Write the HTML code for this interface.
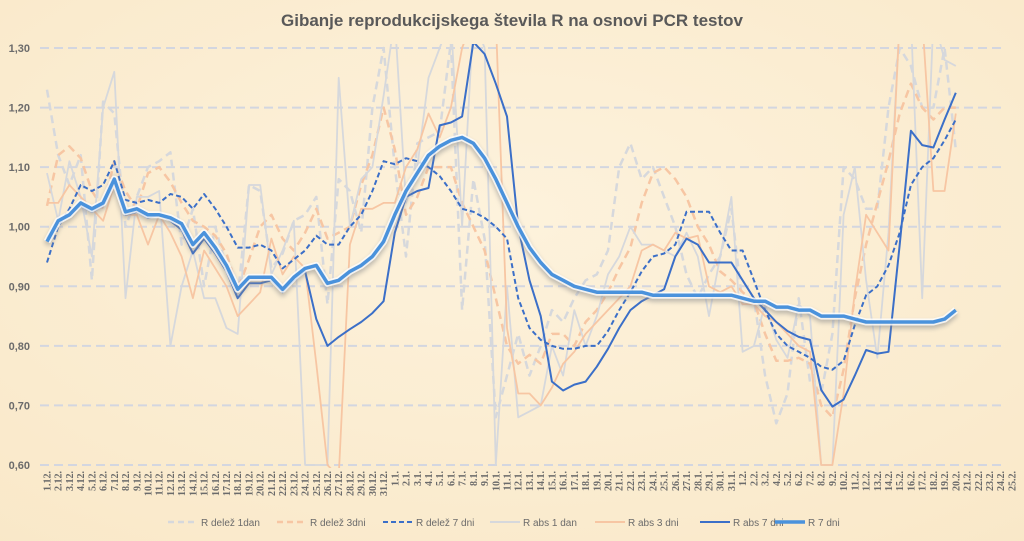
<!DOCTYPE html>
<html><head><meta charset="utf-8"><style>
html,body{margin:0;padding:0;}
body{width:1024px;height:541px;overflow:hidden;background:#fcefd6;font-family:"Liberation Sans",sans-serif;}
svg{display:block}
</style></head><body>
<svg id="chart" width="1024" height="541" viewBox="0 0 1024 541" xmlns="http://www.w3.org/2000/svg">
<defs>
<radialGradient id="bg" cx="50%" cy="40%" r="80%"><stop offset="0" stop-color="#fdf2dc"/><stop offset="1" stop-color="#f9e8c8"/></radialGradient>
<clipPath id="plotclip"><rect x="38" y="44" width="980" height="424"/></clipPath>
<filter id="glow" x="-5%" y="-20%" width="110%" height="140%"><feGaussianBlur stdDeviation="2.5"/></filter>
</defs>
<rect width="1024" height="541" fill="url(#bg)"/>
<text x="512" y="26" text-anchor="middle" font-size="17" font-weight="bold" fill="#595959">Gibanje reprodukcijskega števila R na osnovi PCR testov</text>
<g id="grid"></g><g id="yaxis"></g><g id="xaxis"></g><g id="series" clip-path="url(#plotclip)"></g><g id="legend"></g>
</svg>
<script>
const yTicks=[0.6,0.7,0.8,0.9,1.0,1.1,1.2,1.3];
const yTickLabels=["0,60","0,70","0,80","0,90","1,00","1,10","1,20","1,30"];
const categories=[];
for(let d=1;d<=31;d++)categories.push(d+".12.");
for(let d=1;d<=31;d++)categories.push(d+".1.");
for(let d=1;d<=25;d++)categories.push(d+".2.");
const seriesNames=["R delež 1dan","R delež 3dni","R delež 7 dni","R abs 1 dan","R abs 3 dni","R abs 7 dni","R 7 dni"];
const delez1=[1.23,1.12,1.07,1.12,0.91,1.21,1.19,1.0,1.05,1.1,1.11,1.125,0.97,1.03,0.9,1.0,0.93,0.88,1.07,1.06,0.93,0.955,1.01,1.02,1.05,0.87,1.08,1.06,0.99,1.2,1.3,
1.1,0.95,1.14,1.15,1.16,1.31,0.86,1.08,0.98,0.68,0.75,0.82,0.75,0.8,0.86,0.84,0.88,0.91,0.92,0.96,1.1,1.14,1.08,1.1,1.05,1.0,0.92,0.88,0.92,0.95,1.03,
0.87,0.88,0.75,0.67,0.72,0.88,0.74,0.72,0.82,1.1,1.08,1.03,1.03,1.2,1.3,1.27,1.2,1.2,1.3,1.13];
const delez3=[1.035,1.12,1.135,1.115,1.06,1.03,1.11,1.06,1.03,1.09,1.1,1.075,1.04,1.01,1.0,0.985,0.955,0.895,0.945,1.0,1.02,0.98,0.96,0.99,1.03,0.98,0.99,1.0,1.07,1.12,1.2,
1.13,1.02,1.05,1.1,1.1,1.1,1.04,1.0,0.96,0.88,0.8,0.77,0.785,0.77,0.82,0.82,0.8,0.84,0.86,0.89,0.93,0.965,1.04,1.09,1.1,1.08,1.05,1.0,0.97,0.925,0.91,
0.89,0.875,0.82,0.775,0.775,0.78,0.77,0.7,0.68,0.76,0.88,0.97,1.04,1.11,1.19,1.24,1.2,1.18,1.2,1.2];
const delez7=[0.94,1.0,1.03,1.07,1.06,1.07,1.11,1.045,1.04,1.045,1.04,1.055,1.05,1.03,1.055,1.03,1.0,0.965,0.965,0.97,0.96,0.93,0.945,0.96,0.985,0.97,0.97,1.0,1.02,1.06,1.11,
1.105,1.115,1.11,1.1,1.085,1.06,1.03,1.025,1.015,1.0,0.98,0.88,0.83,0.81,0.8,0.795,0.795,0.8,0.8,0.825,0.86,0.89,0.925,0.95,0.955,0.97,1.025,1.025,1.025,0.99,0.96,
0.96,0.91,0.86,0.82,0.8,0.79,0.78,0.765,0.76,0.775,0.835,0.885,0.9,0.935,0.99,1.07,1.1,1.115,1.145,1.18];
const abs1=[1.09,1.01,1.11,1.05,0.95,1.2,1.26,0.88,1.05,1.05,1.06,0.8,0.9,0.96,0.88,0.88,0.83,0.82,1.07,1.07,0.92,0.96,1.01,0.6,0.6,0.6,1.25,1.0,1.08,1.1,1.22,
1.35,1.04,1.1,1.25,1.3,1.35,1.0,1.35,1.3,0.6,0.9,0.68,0.69,0.7,0.8,0.75,0.86,0.8,0.85,0.92,0.95,1.0,0.97,0.97,0.96,0.95,0.99,0.95,0.85,0.95,1.05,
0.79,0.8,0.87,0.81,0.78,0.87,0.85,0.6,0.6,1.02,1.1,0.91,0.78,0.99,1.35,1.35,0.88,1.35,1.28,1.27];
const abs3=[1.04,1.04,1.07,1.05,1.03,1.01,1.07,1.02,1.02,0.97,1.02,0.99,0.95,0.88,0.96,0.93,0.9,0.85,0.87,0.89,0.98,0.92,0.95,0.93,0.77,0.6,0.58,0.97,1.03,1.03,1.04,
1.04,1.1,1.13,1.19,1.15,1.2,1.3,1.35,1.35,1.35,0.83,0.72,0.72,0.7,0.73,0.77,0.79,0.82,0.84,0.86,0.88,0.9,0.96,0.97,0.96,0.99,0.98,0.985,0.9,0.89,0.9,
0.87,0.87,0.85,0.84,0.82,0.8,0.79,0.6,0.6,0.72,0.89,1.02,0.99,0.96,1.35,1.35,1.35,1.06,1.06,1.19];
const abs7=[0.98,1.01,1.02,1.035,1.025,1.035,1.075,1.02,1.025,1.015,1.02,1.01,0.995,0.955,0.98,0.955,0.925,0.88,0.905,0.905,0.91,0.89,0.91,0.925,0.845,0.8,0.815,0.828,0.84,0.855,0.875,
0.99,1.05,1.06,1.065,1.17,1.175,1.185,1.31,1.29,1.24,1.185,1.0,0.91,0.85,0.74,0.725,0.735,0.74,0.765,0.795,0.83,0.86,0.875,0.885,0.895,0.95,0.98,0.97,0.94,0.94,0.94,
0.91,0.88,0.86,0.84,0.825,0.815,0.81,0.726,0.698,0.71,0.75,0.793,0.787,0.79,0.97,1.161,1.137,1.133,1.18,1.225];
const r7=[0.975,1.01,1.02,1.04,1.03,1.04,1.08,1.025,1.03,1.02,1.02,1.015,1.005,0.97,0.99,0.965,0.935,0.895,0.915,0.915,0.915,0.895,0.915,0.93,0.935,0.905,0.91,0.925,0.935,0.95,0.975,
1.02,1.06,1.09,1.12,1.135,1.145,1.15,1.14,1.115,1.08,1.04,1.0,0.965,0.94,0.92,0.91,0.9,0.895,0.89,0.89,0.89,0.89,0.89,0.885,0.885,0.885,0.885,0.885,0.885,0.885,0.885,
0.88,0.875,0.875,0.865,0.865,0.86,0.86,0.85,0.85,0.85,0.845,0.84,0.84,0.84,0.84,0.84,0.84,0.84,0.845,0.86];

const X0=47,STEP=11.22,YMIN=0.6,YMAX=1.3,YB=465,YT=48;
function xs(i){return X0+STEP*i;}
function ys(v){return YB-(v-YMIN)/(YMAX-YMIN)*(YB-YT);}
const NS="http://www.w3.org/2000/svg";
function mk(tag,attrs,parent){const e=document.createElementNS(NS,tag);for(const k in attrs)e.setAttribute(k,attrs[k]);parent.appendChild(e);return e;}
const grid=document.getElementById('grid'),yax=document.getElementById('yaxis'),xax=document.getElementById('xaxis'),ser=document.getElementById('series'),leg=document.getElementById('legend');
yTicks.forEach((t,i)=>{
  const l=mk('line',{x1:40,x2:1002,y1:ys(t),y2:ys(t),stroke:'#d3d6e0','stroke-width':2,'stroke-dasharray':'9,5'},grid);
  
  
  const tx=mk('text',{x:30,y:ys(t)+4,'text-anchor':'end','font-size':11,'font-weight':'bold',fill:'#6b6b6b'},yax);
  tx.textContent=yTickLabels[i];
  
  
});
categories.forEach((c,i)=>{
  const x=xs(i)+3.5;
  const tx=mk('text',{x:0,y:0,transform:`translate(${x},471) rotate(-90)`,'text-anchor':'end','font-size':10,'font-weight':'bold','font-family':'"Liberation Serif",serif',fill:'#6b6b6b'},xax);
  tx.textContent=c;
  
  
});
function pts(arr){return arr.map((v,i)=>xs(i).toFixed(1)+','+ys(v).toFixed(1)).join(' ');}
const styles=[
 {d:delez1,c:'#d6d8dc',w:2.5,da:'8,5'},
 {d:delez3,c:'#f7c6a3',w:2.5,da:'8,5'},
 {d:abs1,c:'#d6d8dc',w:1.8,da:''},
 {d:abs3,c:'#f7c6a3',w:1.8,da:''},
 {d:delez7,c:'#3b6fc8',w:2,da:'5,3'},
 {d:abs7,c:'#3b6fc8',w:2,da:''}
];
const names=['r-delez-1dan-line','r-delez-3dni-line','r-abs-1dan-line','r-abs-3dni-line','r-delez-7dni-line','r-abs-7dni-line'];
styles.forEach((s,k)=>{
  const p=mk('polyline',{points:pts(s.d),fill:'none',stroke:s.c,'stroke-width':s.w,'stroke-dasharray':s.da,'stroke-linejoin':'round'},ser);
  
  
});
const sh=mk('polyline',{points:pts(r7),fill:'none',stroke:'#8a8a8a','stroke-width':7,opacity:0.55,filter:'url(#glow)',transform:'translate(0,3)'},ser);


const wh=mk('polyline',{points:pts(r7),fill:'none',stroke:'#ffffff','stroke-width':7,opacity:0.8,'stroke-linejoin':'round'},ser);


const mn=mk('polyline',{points:pts(r7),fill:'none',stroke:'#4a92dc','stroke-width':3.5,'stroke-linejoin':'round'},ser);


const legItems=[
 {x:168,c:'#d6d8dc',w:2.5,da:'6,4'},{x:277,c:'#f7c6a3',w:2.5,da:'6,4'},{x:383,c:'#3b6fc8',w:2,da:'5,3'},
 {x:490,c:'#d6d8dc',w:2,da:''},{x:595,c:'#f7c6a3',w:2,da:''},{x:700,c:'#3b6fc8',w:2,da:''},{x:775,c:'#4a92dc',w:3.5,da:''}];
legItems.forEach((it,k)=>{
  const g=mk('g',{},leg);
  
  
  mk('line',{x1:it.x,x2:it.x+30,y1:522,y2:522,stroke:it.c,'stroke-width':it.w,'stroke-dasharray':it.da},g);
  const t=mk('text',{x:it.x+33,y:526,'font-size':10,fill:'#6b6b6b'},g);
  t.textContent=seriesNames[k];
});
</script>
</body></html>
